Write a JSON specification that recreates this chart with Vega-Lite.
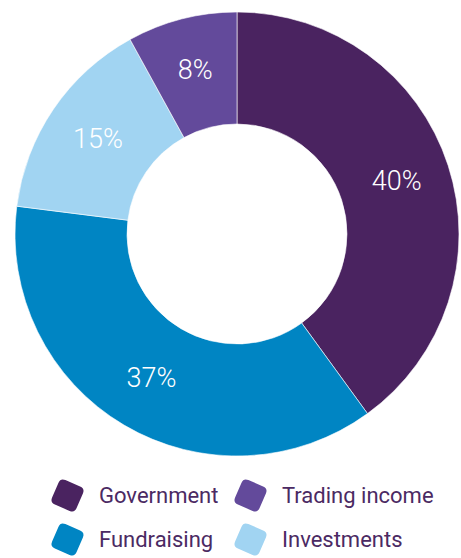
{
  "$schema": "https://vega.github.io/schema/vega-lite/v6.json",
  "autosize": "none",
  "width": 448,
  "height": 468,
  "padding": {"left": 13, "top": 0, "right": 0, "bottom": 90},
  "background": "white",
  "data": {
    "values": [
      {"source": "Government", "pct": 40, "label": "40%", "ord": 1},
      {"source": "Fundraising", "pct": 37, "label": "37%", "ord": 2},
      {"source": "Investments", "pct": 15, "label": "15%", "ord": 3},
      {"source": "Trading income", "pct": 8, "label": "8%", "ord": 4}
    ]
  },
  "encoding": {
    "theta": {"field": "pct", "type": "quantitative", "stack": true},
    "order": {"field": "ord", "type": "quantitative"}
  },
  "layer": [
    {
      "mark": {"type": "arc", "outerRadius": 222, "innerRadius": 110, "stroke": "white", "strokeWidth": 0.6},
      "encoding": {
        "color": {
          "field": "source",
          "type": "nominal",
          "scale": {
            "domain": ["Government", "Trading income", "Fundraising", "Investments"],
            "range": ["#4A2360", "#634A9B", "#0085C3", "#A1D4F2"]
          },
          "legend": {
            "title": null,
            "orient": "none",
            "legendX": 37,
            "legendY": 478,
            "direction": "horizontal",
            "columns": 2,
            "gridAlign": "none",
            "columnPadding": 14,
            "rowPadding": 10,
            "symbolType": "M -0.12 -0.88 L 0.72 -0.52 Q 1 -0.4 0.88 -0.12 L 0.52 0.72 Q 0.4 1 0.12 0.88 L -0.72 0.52 Q -1 0.4 -0.88 0.12 L -0.52 -0.72 Q -0.4 -1 -0.12 -0.88 Z",
            "symbolSize": 1225,
            "symbolStrokeWidth": 0,
            "symbolOpacity": 1,
            "labelFont": "Roboto",
            "labelFontSize": 22,
            "labelColor": "#4B2A63",
            "labelOffset": 14,
            "labelLimit": 300
          }
        }
      }
    },
    {
      "mark": {"type": "text", "radius": 168, "font": "Roboto", "fontWeight": 300, "fontSize": 27, "fill": "white"},
      "encoding": {
        "text": {"field": "label", "type": "nominal"},
        "detail": {"field": "source", "type": "nominal"}
      }
    }
  ],
  "config": {"view": {"stroke": null}}
}
